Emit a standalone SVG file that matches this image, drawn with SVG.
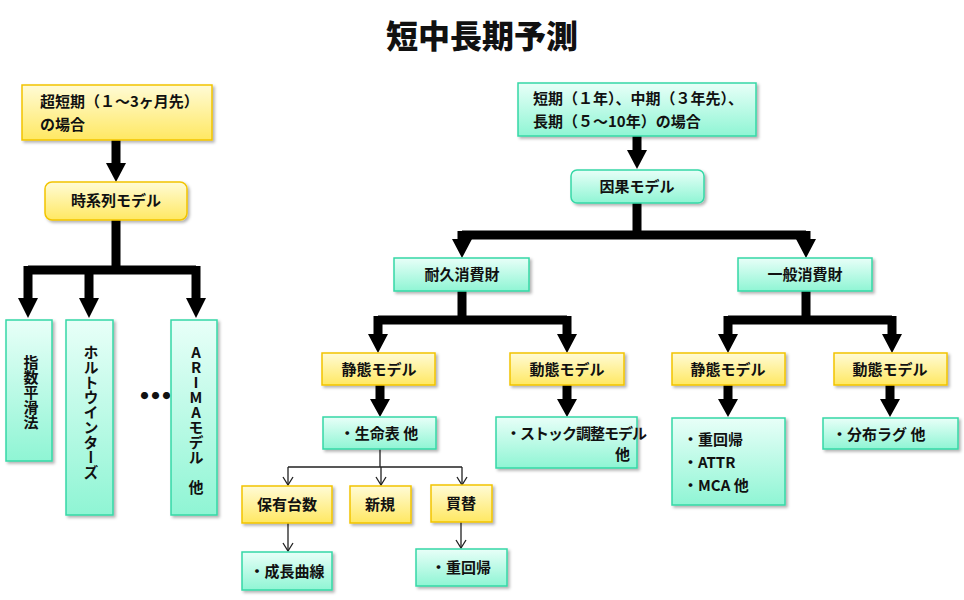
<svg xmlns="http://www.w3.org/2000/svg" width="964" height="600" viewBox="0 0 964 600">
<defs>
<linearGradient id="gy" x1="0" y1="0" x2="0" y2="1"><stop offset="0" stop-color="#fffbd6"/><stop offset="1" stop-color="#ffe862"/></linearGradient>
<linearGradient id="gc" x1="0" y1="0" x2="0" y2="1"><stop offset="0" stop-color="#e8fff8"/><stop offset="1" stop-color="#8ff5d4"/></linearGradient>
<filter id="sh" x="-10%" y="-10%" width="130%" height="130%"><feDropShadow dx="2" dy="2" stdDeviation="1.5" flood-color="#000" flood-opacity="0.3"/></filter>
</defs>
<style>
text{font-family:"Noto Sans CJK JP","Noto Sans",sans-serif;font-weight:bold;font-size:15px;fill:#111}
.y{fill:url(#gy);stroke:#f2c400;stroke-width:1.5;filter:url(#sh)}
.c{fill:url(#gc);stroke:#35d8a6;stroke-width:1.5;filter:url(#sh)}
.k{stroke:#000;stroke-width:9;fill:none}
.t{stroke:#222;stroke-width:1.3;fill:none}
.m{text-anchor:middle}
.v{writing-mode:vertical-rl}
</style>
<text x="482" y="48" class="m" style="font-size:32px;font-weight:900">短中長期予測</text>
<g id="connectors">
<path class="k" d="M116,140 V165"/><path d="M106,163 H126 L116,182 Z"/>
<path class="k" d="M116,220 V270 M28,270 H196 M28,266 V300 M89,266 V300 M196,266 V300"/>
<path d="M18,298 H38 L28,318 Z M79,298 H99 L89,318 Z M186,298 H206 L196,318 Z"/>
<path class="k" d="M637,136 V152"/><path d="M627,150 H647 L637,169 Z"/>
<path class="k" d="M637,203 V235 M462,235 H806 M462,231 V240 M806,231 V240"/>
<path d="M452,239 H472 L462,258 Z M796,239 H816 L806,258 Z"/>
<path class="k" d="M462,291 V320 M378,320 H567 M378,316 V336 M567,316 V336"/>
<path d="M368,334 H388 L378,353 Z M557,334 H577 L567,353 Z"/>
<path class="k" d="M806,291 V320 M728,320 H892 M728,316 V336 M892,316 V336"/>
<path d="M718,334 H738 L728,353 Z M882,334 H902 L892,353 Z"/>
<path class="k" d="M380,385 V400 M567,385 V400 M728,385 V400 M890,385 V400"/>
<path d="M370,399 H390 L380,417 Z M557,399 H577 L567,417 Z M718,399 H738 L728,417 Z M880,399 H900 L890,417 Z"/>
<path class="t" d="M380,449 V467 M288,467 H462 M288,467 V485 M381,467 V485 M462,467 V485 M288,523 V551 M461,522 V548"/>
<path class="t" d="M283,477 L288,485 L293,477 M376,477 L381,485 L386,477 M457,477 L462,485 L467,477 M283,543 L288,551 L293,543 M456,540 L461,548 L466,540"/>
</g>
<g id="n_ultra"><rect class="y" x="22" y="85" width="190" height="55"/><text x="40" y="107">超短期（１～3ヶ月先）</text><text x="40" y="130">の場合</text></g>
<g id="n_ts"><rect class="y" x="45" y="182" width="142" height="38" rx="7"/><text x="116" y="206" class="m">時系列モデル</text></g>
<g id="n_exp"><rect class="c" x="6" y="320" width="46" height="141"/><text x="31" y="355" class="v">指数平滑法</text></g>
<g id="n_holt"><rect class="c" x="66" y="320" width="47" height="195"/><text x="91" y="345" class="v">ホルトウインターズ</text></g>
<text x="157" y="399" class="m" style="font-size:8px;letter-spacing:3px">●●●</text>
<g id="n_arima"><rect class="c" x="171" y="320" width="46" height="195"/><text x="196" y="345" class="v" style="text-orientation:upright">ARIMAモデル　他</text></g>
<g id="n_right"><rect class="c" x="518" y="83" width="238" height="53"/><text x="533" y="104">短期（１年）、中期（３年先）、</text><text x="533" y="127">長期（５～10年）の場合</text></g>
<g id="n_causal"><rect class="c" x="571" y="170" width="133" height="33" rx="6"/><text x="637" y="192" class="m">因果モデル</text></g>
<g id="n_dur"><rect class="c" x="394" y="258" width="135" height="33"/><text x="462" y="280" class="m">耐久消費財</text></g>
<g id="n_gen"><rect class="c" x="738" y="258" width="134" height="33"/><text x="805" y="280" class="m">一般消費財</text></g>
<g id="n_s1"><rect class="y" x="322" y="353" width="113" height="32"/><text x="379" y="375" class="m">静態モデル</text></g>
<g id="n_d1"><rect class="y" x="510" y="353" width="114" height="32"/><text x="567" y="375" class="m">動態モデル</text></g>
<g id="n_s2"><rect class="y" x="672" y="353" width="113" height="32"/><text x="728" y="375" class="m">静態モデル</text></g>
<g id="n_d2"><rect class="y" x="834" y="353" width="113" height="32"/><text x="890" y="375" class="m">動態モデル</text></g>
<g id="n_life"><rect class="c" x="323" y="417" width="113" height="32"/><text x="379" y="439" class="m">・生命表 他</text></g>
<g id="n_stock"><rect class="c" x="496" y="417" width="141" height="51"/><text x="506" y="439" style="letter-spacing:-1px">・ストック調整モデル</text><text x="630" y="460" style="text-anchor:end">他</text></g>
<g id="n_own"><rect class="y" x="242" y="486" width="90" height="37"/><text x="287" y="510" class="m">保有台数</text></g>
<g id="n_new"><rect class="y" x="350" y="486" width="61" height="37"/><text x="380" y="510" class="m">新規</text></g>
<g id="n_rep"><rect class="y" x="431" y="485" width="61" height="37"/><text x="461" y="509" class="m">買替</text></g>
<g id="n_growth"><rect class="c" x="242" y="552" width="90" height="38"/><text x="287" y="577" class="m">・成長曲線</text></g>
<g id="n_reg"><rect class="c" x="416" y="549" width="91" height="37"/><text x="461" y="573" class="m">・重回帰</text></g>
<g id="n_multi"><rect class="c" x="672" y="418" width="113" height="87"/><text x="683" y="445">・重回帰</text><text x="683" y="468">・ATTR</text><text x="683" y="491">・MCA 他</text></g>
<g id="n_lag"><rect class="c" x="823" y="418" width="135" height="31"/><text x="832" y="440">・分布ラグ 他</text></g>
</svg>
